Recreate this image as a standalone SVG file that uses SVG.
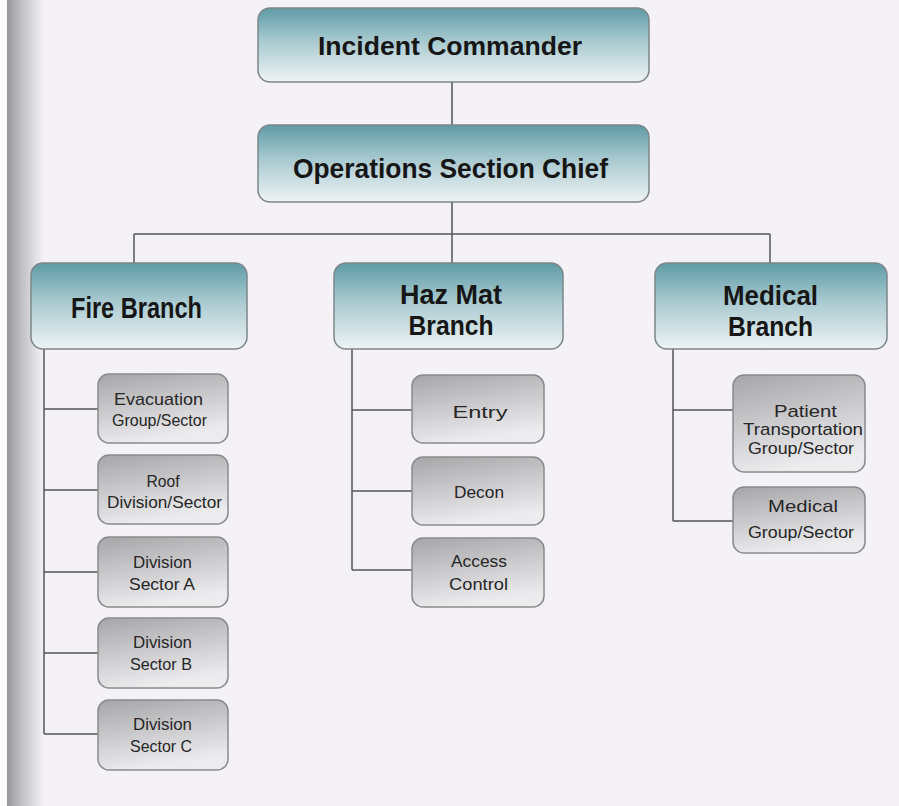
<svg xmlns="http://www.w3.org/2000/svg" width="899" height="806" viewBox="0 0 899 806">
<defs>
<linearGradient id="teal" x1="0" y1="0" x2="0" y2="1">
<stop offset="0" stop-color="#5f9ba6"/>
<stop offset="0.45" stop-color="#a9cad0"/>
<stop offset="1" stop-color="#eef3f5"/>
</linearGradient>
<linearGradient id="grey" x1="0" y1="0" x2="0.3" y2="1">
<stop offset="0" stop-color="#a6a6a8"/>
<stop offset="1" stop-color="#ececee"/>
</linearGradient>
<linearGradient id="strip" x1="0" y1="0" x2="1" y2="0">
<stop offset="0" stop-color="#95959a"/>
<stop offset="0.35" stop-color="#bcbbc0"/>
<stop offset="1" stop-color="#f3f1f6"/>
</linearGradient>
<style>
.top{fill:url(#teal);stroke:#7c8689;stroke-width:1.5}
.sub{fill:url(#grey);stroke:#8a8a8c;stroke-width:1.5}
.t1{font-family:"Liberation Sans",Arial,sans-serif;font-weight:bold;fill:#161616;text-anchor:middle}
.t2{font-family:"Liberation Sans",Arial,sans-serif;font-size:17px;fill:#262626;text-anchor:middle}
.c{stroke:#555;stroke-width:1.5;fill:none}
</style>
</defs>
<rect x="0" y="0" width="899" height="806" fill="#f4f2f7"/>
<rect x="7" y="0" width="36" height="806" fill="url(#strip)"/>
<rect x="0" y="0" width="7" height="806" fill="#fbfbfc"/>

<g id="connectors">
<path class="c" d="M452 82V125M452 202V234M134 234H770M134 234V263M452 234V263M770 234V263"/>
<path class="c" d="M44 349V734M44 409H98M44 490H98M44 572H98M44 653H98M44 734H98"/>
<path class="c" d="M352 349V570M352 410H412M352 491H412M352 570H412"/>
<path class="c" d="M673 349V521M673 410H733M673 521H733"/>
</g>

<g id="incident-commander">
<rect class="top" x="258" y="8" width="391" height="74" rx="12"/>
<text class="t1" x="450" y="55" font-size="25" textLength="264" lengthAdjust="spacingAndGlyphs">Incident Commander</text>
</g>
<g id="operations-section-chief">
<rect class="top" x="258" y="125" width="391" height="77" rx="12"/>
<text class="t1" x="450.5" y="178" font-size="28" textLength="315" lengthAdjust="spacingAndGlyphs">Operations Section Chief</text>
</g>
<g id="fire-branch">
<rect class="top" x="31" y="263" width="216" height="86" rx="12"/>
<text class="t1" x="136.5" y="318" font-size="29" textLength="131" lengthAdjust="spacingAndGlyphs">Fire Branch</text>
</g>
<g id="hazmat-branch">
<rect class="top" x="334" y="263" width="229" height="86" rx="12"/>
<text class="t1" x="451" y="304" font-size="27" textLength="102" lengthAdjust="spacingAndGlyphs">Haz Mat</text>
<text class="t1" x="451" y="335" font-size="27" textLength="85" lengthAdjust="spacingAndGlyphs">Branch</text>
</g>
<g id="medical-branch">
<rect class="top" x="655" y="263" width="232" height="86" rx="12"/>
<text class="t1" x="770.5" y="305" font-size="27" textLength="95" lengthAdjust="spacingAndGlyphs">Medical</text>
<text class="t1" x="770.5" y="336" font-size="27" textLength="85" lengthAdjust="spacingAndGlyphs">Branch</text>
</g>

<g id="evacuation">
<rect class="sub" x="98" y="374" width="130" height="69" rx="11"/>
<text class="t2" x="158.5" y="405" textLength="89" lengthAdjust="spacingAndGlyphs">Evacuation</text>
<text class="t2" x="159.5" y="426" textLength="95" lengthAdjust="spacingAndGlyphs">Group/Sector</text>
</g>
<g id="roof">
<rect class="sub" x="98" y="455" width="130" height="69" rx="11"/>
<text class="t2" x="163" y="487" textLength="33" lengthAdjust="spacingAndGlyphs">Roof</text>
<text class="t2" x="164.5" y="508" textLength="115" lengthAdjust="spacingAndGlyphs">Division/Sector</text>
</g>
<g id="division-a">
<rect class="sub" x="98" y="537" width="130" height="70" rx="11"/>
<text class="t2" x="162.5" y="568" textLength="59" lengthAdjust="spacingAndGlyphs">Division</text>
<text class="t2" x="162" y="590" textLength="66" lengthAdjust="spacingAndGlyphs">Sector A</text>
</g>
<g id="division-b">
<rect class="sub" x="98" y="618" width="130" height="70" rx="11"/>
<text class="t2" x="162.5" y="648" textLength="59" lengthAdjust="spacingAndGlyphs">Division</text>
<text class="t2" x="161" y="670" textLength="62" lengthAdjust="spacingAndGlyphs">Sector B</text>
</g>
<g id="division-c">
<rect class="sub" x="98" y="700" width="130" height="70" rx="11"/>
<text class="t2" x="162.5" y="730" textLength="59" lengthAdjust="spacingAndGlyphs">Division</text>
<text class="t2" x="161" y="752" textLength="62" lengthAdjust="spacingAndGlyphs">Sector C</text>
</g>

<g id="entry">
<rect class="sub" x="412" y="375" width="132" height="68" rx="11"/>
<text class="t2" x="480" y="418" textLength="55" lengthAdjust="spacingAndGlyphs">Entry</text>
</g>
<g id="decon">
<rect class="sub" x="412" y="457" width="132" height="68" rx="11"/>
<text class="t2" x="479" y="498" textLength="50" lengthAdjust="spacingAndGlyphs">Decon</text>
</g>
<g id="access-control">
<rect class="sub" x="412" y="538" width="132" height="69" rx="11"/>
<text class="t2" x="479" y="567" textLength="56" lengthAdjust="spacingAndGlyphs">Access</text>
<text class="t2" x="478.5" y="590" textLength="59" lengthAdjust="spacingAndGlyphs">Control</text>
</g>

<g id="patient-transportation">
<rect class="sub" x="733" y="375" width="132" height="97" rx="11"/>
<text class="t2" x="805.5" y="417" font-size="16" textLength="63" lengthAdjust="spacingAndGlyphs">Patient</text>
<text class="t2" x="803" y="435" font-size="16" textLength="120" lengthAdjust="spacingAndGlyphs">Transportation</text>
<text class="t2" x="801" y="454" font-size="16" textLength="106" lengthAdjust="spacingAndGlyphs">Group/Sector</text>
</g>
<g id="medical-group">
<rect class="sub" x="733" y="487" width="132" height="66" rx="11"/>
<text class="t2" x="803" y="512" textLength="70" lengthAdjust="spacingAndGlyphs">Medical</text>
<text class="t2" x="801" y="538" textLength="106" lengthAdjust="spacingAndGlyphs">Group/Sector</text>
</g>
</svg>
